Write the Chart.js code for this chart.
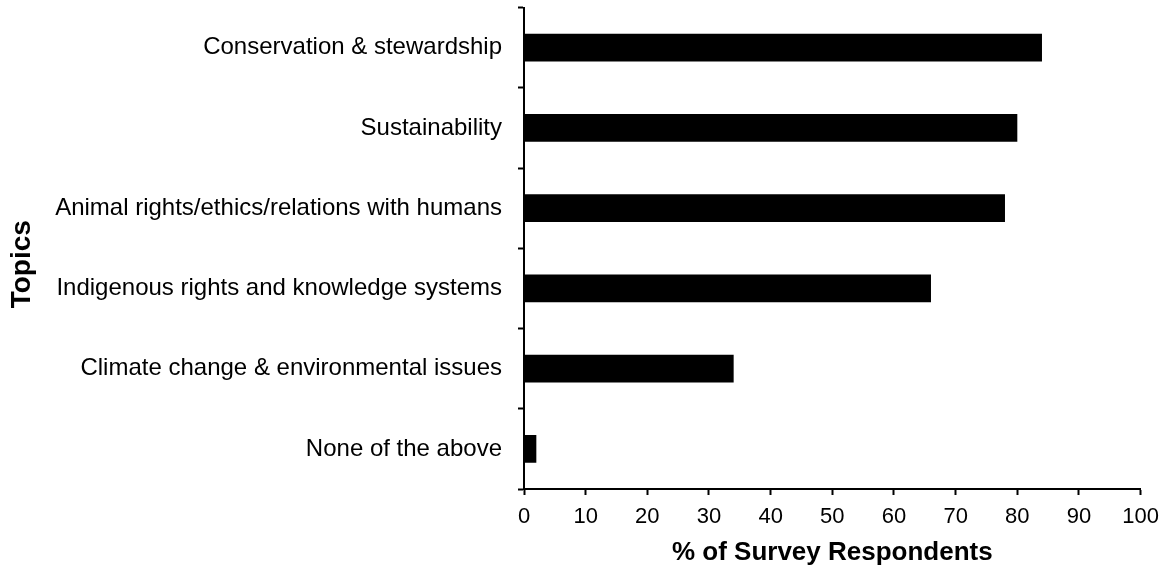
<!DOCTYPE html>
<html>
<head>
<meta charset="utf-8">
<script src="https://cdn.jsdelivr.net/npm/chart.js@4"></script>
<style>
  html, body { margin: 0; padding: 0; background: #fff; }
  #wrap { width: 1168px; height: 571px; }
</style>
</head>
<body>
<div id="wrap"><canvas id="topicsChart" width="1168" height="571"></canvas></div>
<script>
const topics = [
  "Conservation & stewardship",
  "Sustainability",
  "Animal rights/ethics/relations with humans",
  "Indigenous rights and knowledge systems",
  "Climate change & environmental issues",
  "None of the above"
];
const respondents = [84, 80, 78, 66, 34, 2];
const yTitle = "Topics";

const fontFamily = "'Liberation Sans', Arial, sans-serif";

// y-axis title sits a little below the axis middle in the original
const yTitlePlugin = {
  id: "yTitle",
  afterDraw(chart) {
    const c = chart.ctx;
    const area = chart.chartArea;
    c.save();
    c.translate(22.5, (area.top + area.bottom) / 2 + 16);
    c.rotate(-Math.PI / 2);
    c.font = "bold 28px " + fontFamily;
    c.fillStyle = "#000";
    c.textAlign = "center";
    c.textBaseline = "middle";
    c.fillText(yTitle, 0, 0);
    c.restore();
  },
};

const ctx = document.getElementById("topicsChart").getContext("2d");

new Chart(ctx, {
  type: "bar",
  data: {
    labels: topics,
    datasets: [
      {
        label: "% of Survey Respondents",
        data: respondents,
        backgroundColor: "#000",
        borderWidth: 0,
        barPercentage: 0.345,
        categoryPercentage: 1,
      },
    ],
  },
  options: {
    indexAxis: "y",
    responsive: false,
    animation: false,
    layout: {
      padding: { top: 7.5, right: 24, left: 0, bottom: 0 },
    },
    plugins: {
      legend: { display: false },
      tooltip: { enabled: false },
    },
    scales: {
      x: {
        min: 0,
        max: 100,
        ticks: {
          stepSize: 10,
          color: "#000",
          padding: 9,
          font: { family: fontFamily, size: 22 },
        },
        grid: {
          drawOnChartArea: false,
          drawTicks: true,
          tickLength: 6,
          tickWidth: 2,
          tickColor: "#000",
        },
        border: { color: "#000", width: 2 },
        title: {
          display: true,
          text: "% of Survey Respondents",
          color: "#000",
          font: { family: fontFamily, size: 26, weight: "bold" },
          padding: { top: 4, bottom: 3 },
        },
        afterFit: function (scale) {
          scale.height = 82;
        },
      },
      y: {
        ticks: {
          color: "#000",
          padding: 16,
          font: { family: fontFamily, size: 24 },
        },
        grid: {
          offset: true,
          drawOnChartArea: false,
          drawTicks: true,
          tickLength: 6,
          tickWidth: 2,
          tickColor: "#000",
        },
        border: { color: "#000", width: 2 },
        afterFit: function (scale) {
          scale.width = 524;
          scale.paddingTop = 0;
          scale.paddingBottom = 0;
        },
      },
    },
  },
  plugins: [yTitlePlugin],
});
</script>
</body>
</html>
